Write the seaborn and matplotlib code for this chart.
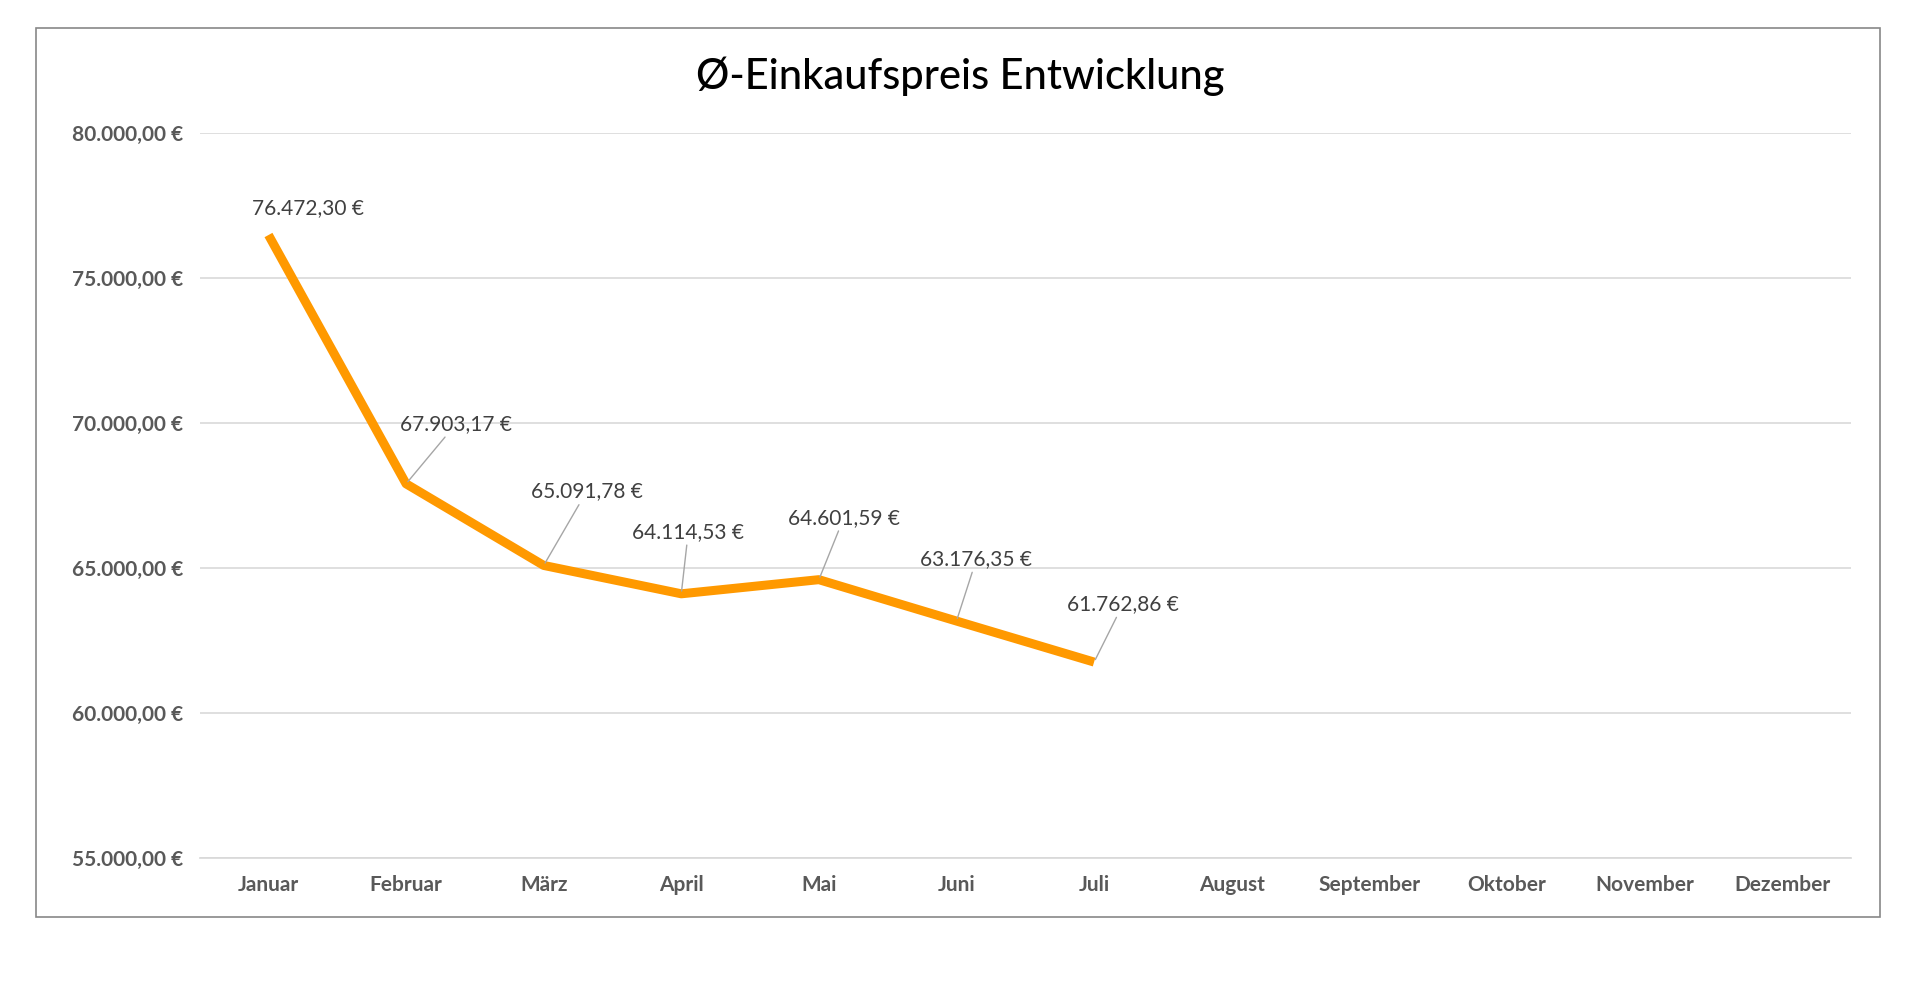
import matplotlib
matplotlib.use("Agg")
import matplotlib.pyplot as plt
import seaborn as sns
import pandas as pd
from matplotlib.patches import Rectangle

months = ["Januar","Februar","März","April","Mai","Juni","Juli","August","September","Oktober","November","Dezember"]
values = [76472.30, 67903.17, 65091.78, 64114.53, 64601.59, 63176.35, 61762.86]
label_offsets = [(40,27),(50,50),(43,64),(7,52),(25,52),(20,52),(29,48)]
leaders = [False, True, True, True, True, True, True]

def de(v):
    s = f"{v:,.2f}"
    return s.replace(",", "X").replace(".", ",").replace("X", ".") + " €"

sns.set_theme(style="white")
plt.rcParams['font.family'] = ['Lato', 'DejaVu Sans']

fig = plt.figure(figsize=(19.2, 9.97), dpi=100)
fig.patches.append(Rectangle((0.019, 0.080), 0.96, 0.892, transform=fig.transFigure,
                             fill=False, edgecolor="#888888", lw=1.2))
ax = fig.add_axes([0.104, 0.139, 0.860, 0.728])
x = list(range(len(values)))
sns.lineplot(x=x, y=values, ax=ax, color="#FF9900", lw=6.5, solid_capstyle="butt")
ax.set_xlim(-0.5, 11.5)
ax.set_ylim(55000, 80000)
ax.set_yticks(range(55000, 80001, 5000))
ax.set_yticklabels([de(v) for v in range(55000, 80001, 5000)], fontsize=15,
                   fontweight="bold", color="#595959")
ax.set_xticks(range(12))
ax.set_xticklabels(months, fontsize=15, fontweight="bold", color="#595959")
ax.grid(axis="y", color="#d9d9d9", lw=1.2)
for s in ["top", "left", "right"]:
    ax.spines[s].set_visible(False)
ax.spines["bottom"].set_color("#d9d9d9")
ax.tick_params(axis="both", length=0, pad=12)
for i, v in enumerate(values):
    ap = dict(arrowstyle="-", color="#a6a6a6", lw=1, shrinkA=0, shrinkB=2) if leaders[i] else None
    ax.annotate(de(v), (i, v), xytext=label_offsets[i], textcoords="offset pixels",
                ha="center", va="bottom" if leaders[i] else "center", fontsize=15,
                color="#404040", arrowprops=ap)
fig.text(0.5, 0.924, "Ø-Einkaufspreis Entwicklung", ha="center", va="center",
         fontsize=30, fontweight="medium", color="#000000")
fig.savefig("out.png", dpi=100, facecolor="white")
